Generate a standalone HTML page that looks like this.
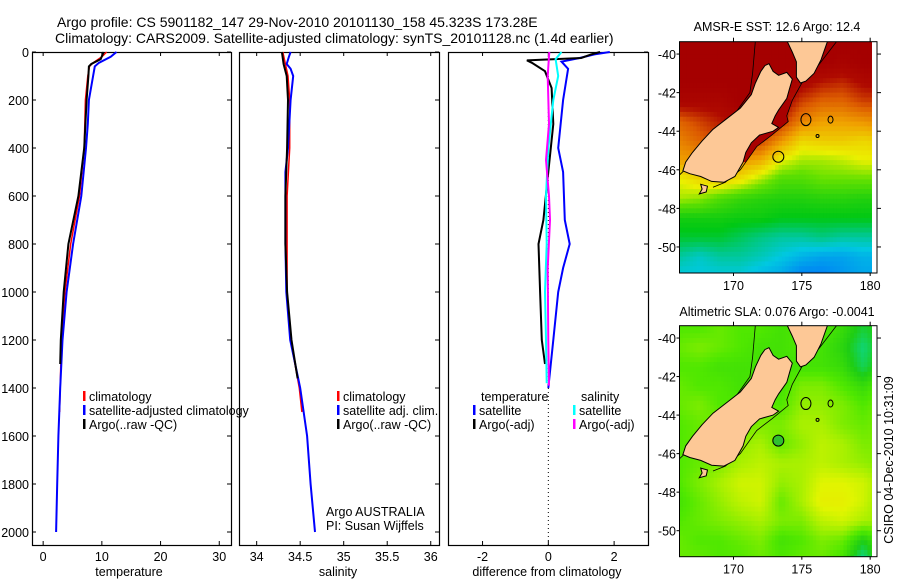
<!DOCTYPE html>
<html><head><meta charset="utf-8"><style>
html,body{margin:0;padding:0;background:#fff;width:900px;height:580px;overflow:hidden}
svg text{font-family:"Liberation Sans",sans-serif;fill:#000}
</style></head><body>
<svg id="fig" width="900" height="580" viewBox="0 0 900 580" xmlns="http://www.w3.org/2000/svg">
<text x="57" y="27" font-size="14">Argo profile: CS 5901182_147 29-Nov-2010 20101130_158 45.323S 173.28E</text>
<text x="55" y="43" font-size="14">Climatology: CARS2009. Satellite-adjusted climatology: synTS_20101128.nc (1.4d earlier)</text>
<g id="plots"></g>
</svg>
<script>
// ---- profile data ----
const climTDepth=[0,20,45,60,100,200,400,600,800,1000,1200,1400,1500];
const climT=[10.8,10.0,8.5,7.9,7.6,7.2,7.0,6.2,4.7,3.7,3.1,2.9,2.8];
const satTDepth=[0,20,45,60,100,200,300,400,600,800,1000,1200,1400,1600,1800,2000];
const satT=[12.5,11.5,9.5,8.8,8.5,7.8,7.6,7.3,6.5,5.1,4.0,3.3,2.9,2.6,2.4,2.2];
const argoTDepth=[0,30,50,60,100,200,400,600,800,1000,1200,1300];
const argoT=[10.3,9.8,8.2,7.8,7.7,7.4,7.0,6.0,4.3,3.5,3.0,2.9];
const climSDepth=[0,50,100,200,400,600,800,1000,1200,1400,1500];
const climS=[34.30,34.33,34.36,34.38,34.38,34.35,34.35,34.35,34.39,34.49,34.52];
const satSDepth=[0,20,50,70,100,200,400,500,800,1000,1200,1400,1600,1800,2000];
const satS=[34.39,34.37,34.345,34.39,34.42,34.39,34.36,34.33,34.33,34.34,34.385,34.5,34.58,34.62,34.67];
const argoSDepth=[0,50,100,200,400,600,800,1000,1200,1360];
const argoS=[34.29,34.31,34.345,34.36,34.35,34.33,34.33,34.35,34.40,34.47];
const dTsatDepth=[0,10,25,40,70,200,400,500,700,800,900,1000,1200,1400];
const dTsat=[1.87,1.4,0.95,0.4,0.6,0.45,0.3,0.45,0.5,0.65,0.45,0.3,0.15,0.0];
const dTargoDepth=[0,10,25,35,45,80,150,300,500,700,800,1000,1200,1300];
const dTargo=[1.57,1.3,1.0,-0.65,-0.5,-0.1,0.1,0.15,0,-0.15,-0.3,-0.25,-0.2,-0.1];
const dSsatDepth=[0,30,100,200,400,600,800,1000,1200,1380];
const dSsat=[0.4,0.22,0.3,0.15,0,-0.07,-0.05,-0.1,-0.07,-0.05];
const dSargoDepth=[0,100,300,450,600,700,900,1200,1390];
const dSargo=[0.03,-0.02,0.02,-0.07,0.02,0.05,-0.02,0,0.02];
const depthTicks=[0,200,400,600,800,1000,1200,1400,1600,1800,2000];
const tempTicks=[0,10,20,30];
const salTicks=[34,34.5,35,35.5,36];
const diffTicks=[-2,0,2];
const lonTicks=[170,175,180];
const latTicks=[-40,-42,-44,-46,-48,-50];
// map fields: rows lat -39.5..-51.5 step 1, cols lon 166..181 step 1.5
const sstField=[
[1,1,1,1,1,1,1,1,1,1,1],
[1,1,1,1,1,1,1,1,0.97,1,1],
[1,1,1,1,1,1,0.95,0.9,0.88,0.93,0.95],
[0.95,0.95,0.95,1,1,0.97,0.85,0.8,0.8,0.85,0.85],
[0.8,0.85,0.9,0.95,0.92,0.88,0.75,0.7,0.7,0.72,0.75],
[0.75,0.8,0.85,0.85,0.85,0.72,0.6,0.62,0.62,0.6,0.62],
[0.7,0.72,0.75,0.72,0.68,0.55,0.5,0.5,0.52,0.55,0.55],
[0.55,0.6,0.62,0.58,0.5,0.42,0.42,0.45,0.45,0.45,0.45],
[0.5,0.48,0.42,0.38,0.36,0.35,0.35,0.36,0.36,0.35,0.35],
[0.33,0.33,0.33,0.32,0.32,0.3,0.3,0.3,0.3,0.3,0.3],
[0.28,0.28,0.28,0.25,0.22,0.2,0.2,0.22,0.2,0.2,0.2],
[0.2,0.17,0.2,0.2,0.18,0.15,0.12,0.1,0.1,0.12,0.12],
[0.15,0.15,0.15,0.15,0.12,0.1,0.05,0.05,0.08,0.1,0.1]];
const slaField=[
[0.5,0.5,0.55,0.5,0.5,0.45,0.5,0.5,0.4,0.25,0.35],
[0.55,0.6,0.55,0.5,0.45,0.45,0.5,0.45,0.35,0.15,0.35],
[0.5,0.5,0.45,0.45,0.45,0.45,0.45,0.45,0.4,0.2,0.4],
[0.55,0.5,0.5,0.45,0.5,0.45,0.6,0.6,0.5,0.4,0.55],
[0.55,0.6,0.5,0.5,0.55,0.5,0.65,0.65,0.6,0.5,0.6],
[0.5,0.55,0.6,0.55,0.6,0.6,0.7,0.7,0.6,0.55,0.6],
[0.5,0.55,0.6,0.65,0.7,0.55,0.65,0.75,0.7,0.6,0.6],
[0.5,0.55,0.6,0.7,0.75,0.7,0.7,0.75,0.7,0.65,0.6],
[0.5,0.6,0.7,0.8,0.8,0.65,0.7,0.85,0.85,0.8,0.65],
[0.45,0.55,0.65,0.75,0.8,0.55,0.7,0.9,0.9,0.8,0.6],
[0.5,0.55,0.6,0.65,0.7,0.6,0.6,0.75,0.8,0.7,0.65],
[0.55,0.5,0.5,0.55,0.6,0.45,0.5,0.6,0.55,0.3,0.55],
[0.55,0.55,0.5,0.5,0.55,0.5,0.55,0.55,0.45,0.1,0.5]];
const southIsland=[[172.6,-40.5],[172.9,-40.9],[173.3,-41.1],[173.9,-40.95],[174.3,-41.3],[174.1,-41.8],[173.9,-42.3],[173.3,-42.9],[173.05,-43.2],[172.8,-43.6],[173.3,-43.8],[172.9,-44.0],[171.9,-44.2],[171.3,-44.6],[170.9,-45.1],[170.7,-45.6],[170.1,-46.35],[169.3,-46.65],[168.4,-46.6],[167.6,-46.35],[166.8,-46.2],[166.3,-46.05],[166.5,-45.6],[167.0,-45.1],[167.7,-44.5],[168.5,-43.9],[169.6,-43.3],[170.5,-42.8],[171.3,-42.1],[171.6,-41.5],[172.0,-40.9],[172.3,-40.6]];
const northIsland=[[173.9,-39.3],[174.3,-39.9],[174.6,-40.4],[174.6,-41.2],[174.9,-41.5],[175.3,-41.4],[175.9,-41.0],[176.4,-40.3],[176.9,-39.3]];
const stewartIsland=[[167.6,-46.75],[168.1,-46.85],[168.0,-47.15],[167.5,-47.25],[167.7,-47.0]];
const isobathWest=[[171.6,-39.3],[171.4,-41.0],[171.2,-42.0],[170.2,-43.0],[169.0,-43.75],[167.5,-44.9],[166.3,-46.1],[166.0,-46.3]];
const isobathEast=[[177.6,-39.3],[176.3,-40.5],[175.0,-41.5],[174.3,-42.4],[173.9,-43.2],[174.0,-43.5],[172.8,-44.2],[171.7,-44.8],[170.5,-46.0],[169.4,-46.65],[168.5,-46.9]];
const eastShelf=[[174.3,-42.4],[173.9,-43.2],[174.0,-43.5],[172.8,-44.2],[171.7,-44.8],[170.9,-45.6],[170.7,-45.6],[170.9,-45.1],[171.3,-44.6],[171.9,-44.2],[172.9,-44.0],[173.3,-43.8],[172.8,-43.6],[173.05,-43.2],[173.3,-42.9],[173.9,-42.3]];

const NS='http://www.w3.org/2000/svg';
const root=document.getElementById('plots');
function mk(tag,attrs,parent){const e=document.createElementNS(NS,tag);for(const k in attrs)e.setAttribute(k,attrs[k]);(parent||root).appendChild(e);return e;}
function txt(s,x,y,size,anchor,parent){const t=mk('text',{x:x,y:y,'font-size':size,'text-anchor':anchor||'start'},parent);t.textContent=s;return t;}

const TOP=52, BOT=545, Y0=52, YS=0.24;
const yD=d=>Y0+d*YS;
const panels=[
 {name:'temperature',x0:32,x1:231,v0:-1.9,v1:32,ticks:tempTicks,label:'temperature',lx:129},
 {name:'salinity',x0:239,x1:439,v0:33.797,v1:36.095,ticks:salTicks,label:'salinity',lx:338},
 {name:'difference',x0:448,x1:648,v0:-3.05,v1:3.03,ticks:diffTicks,label:'difference from climatology',lx:547}
];
panels.forEach((p,i)=>{
  p.sx=v=>p.x0+(v-p.v0)/(p.v1-p.v0)*(p.x1-p.x0);
  const g=mk('g',{});
  
  
  p.g=g;
  const fr=mk('rect',{x:p.x0+0.5,y:TOP+0.5,width:p.x1-p.x0,height:BOT-TOP,fill:'none',stroke:'#000','stroke-width':1.2},g);
  
  
  depthTicks.forEach(d=>{
    const y=yD(d);
    mk('line',{x1:p.x1-4,x2:p.x1,y1:y,y2:y,stroke:'#000'},g);
    if(i===0){mk('line',{x1:p.x0,x2:p.x0+4,y1:y,y2:y,stroke:'#000'},g);
      const t=txt(String(d),29,y+5,12.5,'end',g);
      
      }
  });
  p.ticks.forEach(v=>{
    const x=p.sx(v);
    mk('line',{x1:x,x2:x,y1:TOP,y2:TOP+4,stroke:'#000'},g);
    mk('line',{x1:x,x2:x,y1:BOT-4,y2:BOT,stroke:'#000'},g);
    const t=txt(String(v),x,561,12.5,'middle',g);
    
    
  });
  const al=txt(p.label,p.lx,576,12.5,'middle',g);
  
  
});
function series(p,depths,vals,color,w,name){
  const pts=depths.map((d,i)=>p.sx(vals[i]).toFixed(1)+','+yD(d).toFixed(1)).join(' ');
  const l=mk('polyline',{points:pts,fill:'none',stroke:color,'stroke-width':w,'stroke-linejoin':'miter'},p.g);
  
  
}
const [pT,pS,pD]=panels;
mk('line',{x1:pD.sx(0),x2:pD.sx(0),y1:TOP,y2:BOT,stroke:'#000','stroke-dasharray':'1,3'},pD.g);
series(pT,climTDepth,climT,'#ff0000',1.5,'temp-climatology-line');
series(pT,satTDepth,satT,'#0000ff',2,'temp-satellite-line');
series(pT,argoTDepth,argoT,'#000000',2,'temp-argo-line');
series(pS,climSDepth,climS,'#ff0000',1.5,'sal-climatology-line');
series(pS,satSDepth,satS,'#0000ff',2,'sal-satellite-line');
series(pS,argoSDepth,argoS,'#000000',2,'sal-argo-line');
series(pD,dTsatDepth,dTsat,'#0000ff',2,'diff-temp-satellite-line');
series(pD,dTargoDepth,dTargo,'#000000',2,'diff-temp-argo-line');
series(pD,dSsatDepth,dSsat,'#00ffff',2,'diff-sal-satellite-line');
series(pD,dSargoDepth,dSargo,'#ff00ff',2,'diff-sal-argo-line');

function legend(p,mx,items,y0,title){
  const g=mk('g',{},p.g);
  
  
  if(title){txt(title,mx+8,y0,12.5,'start',g);y0+=14;}
  items.forEach((it,i)=>{
    const y=y0+i*14;
    mk('rect',{x:mx,y:y-10,width:2.5,height:10,fill:it[1]},g);
    const t=txt(it[0],mx+6,y,12.5,'start',g);
    
    
  });
}
legend(pT,83,[['climatology','#ff0000'],['satellite-adjusted climatology','#0000ff'],['Argo(..raw -QC)','#000']],401);
legend(pS,337,[['climatology','#ff0000'],['satellite adj. clim.','#0000ff'],['Argo(..raw -QC)','#000']],401);
legend(pD,473,[['satellite','#0000ff'],['Argo(-adj)','#000']],401,'temperature');
legend(pD,573,[['satellite','#00ffff'],['Argo(-adj)','#ff00ff']],401,'salinity');
const c1=txt('Argo AUSTRALIA',326,516,12.5,'start',pS.g);


const c2=txt('PI: Susan Wijffels',326,530,12.5,'start',pS.g);



// ---- maps ----
function lerp(a,b,t){return a+(b-a)*t;}
function cmap(stops,v){v=Math.max(0,Math.min(1,v));for(let i=1;i<stops.length;i++){if(v<=stops[i][0]){const a=stops[i-1],b=stops[i],t=(v-a[0])/(b[0]-a[0]);return 'rgb('+[1,2,3].map(k=>Math.round(lerp(a[k],b[k],t))).join(',')+')';}}const l=stops[stops.length-1];return 'rgb('+l[1]+','+l[2]+','+l[3]+')';}
const sstStops=[[0,0,90,255],[0.15,0,200,225],[0.3,0,200,20],[0.45,100,225,0],[0.55,235,240,0],[0.7,240,160,0],[0.82,220,90,0],[0.92,175,10,0],[1,165,0,0]];
const slaStops=[[0,0,220,220],[0.3,30,205,20],[0.5,80,232,0],[0.7,170,240,0],[0.85,225,245,0],[1,240,225,0]];
function sample(f,lon,lat){
  let r=(-39.5-lat),c=(lon-166)/1.5;
  r=Math.max(0,Math.min(12,r));c=Math.max(0,Math.min(10,c));
  const r0=Math.min(11,Math.floor(r)),c0=Math.min(9,Math.floor(c)),tr=r-r0,tc=c-c0;
  return lerp(lerp(f[r0][c0],f[r0][c0+1],tc),lerp(f[r0+1][c0],f[r0+1][c0+1],tc),tr);
}
function drawMap(cfg){
  const g=mk('g',{});
  
  
  const L=679.5,R=877,DR=872,lon0=166.05,lon1=180.5,latTop=cfg.latTop,latBot=cfg.latBot,T=cfg.top,B=cfg.bot;
  const sx=lon=>L+(lon-lon0)/(lon1-lon0)*(R-L);
  const sy=lat=>T+(latTop-lat)/(latTop-latBot)*(B-T);
  const cid='clip'+cfg.name;
  const cp=mk('clipPath',{id:cid},g);mk('rect',{x:L,y:T,width:DR-L,height:B-T},cp);
  const cells=mk('g',{'clip-path':'url(#'+cid+')'},g);
  const step=0.25;
  for(let lat=-39.25;lat>-51.5;lat-=step){
    for(let lon=166.05;lon<180.1;lon+=step){
      const v=sample(cfg.field,lon+step/2,lat-step/2);
      mk('rect',{x:sx(lon).toFixed(2),y:sy(lat).toFixed(2),width:(sx(lon+step)-sx(lon)+0.6).toFixed(2),height:(sy(lat-step)-sy(lat)+0.6).toFixed(2),fill:cmap(cfg.stops,v)},cells);
    }
  }
  const poly=(pts,fill,sw,name)=>{const e=mk(fill==='none'?'polyline':'polygon',{points:pts.map(p=>sx(p[0]).toFixed(1)+','+sy(p[1]).toFixed(1)).join(' '),fill:fill,stroke:sw>0?'#000':'none','stroke-width':sw},cells);};
  if(cfg.shelfFill) poly(eastShelf,cfg.shelfFill,0,'east-shelf-water');
  poly(isobathWest,'none',0.8,'isobath-line');
  poly(isobathEast,'none',0.8,'isobath-line');
  poly(southIsland,'#fdc896',1,'south-island');
  poly(northIsland,'#fdc896',1,'north-island');
  poly(stewartIsland,'#fdc896',1,'stewart-island');
  mk('ellipse',{cx:sx(175.3),cy:sy(-43.4),rx:5,ry:6,fill:'none',stroke:'#000'},cells);
  mk('ellipse',{cx:sx(177.1),cy:sy(-43.4),rx:2.5,ry:3.5,fill:'none',stroke:'#000'},cells);
  mk('circle',{cx:sx(176.15),cy:sy(-44.25),r:1.5,fill:'none',stroke:'#000'},cells);
  const ac=mk('circle',{cx:sx(173.28),cy:sy(-45.323),r:5.5,fill:cfg.markFill,stroke:'#000'},cells);
  
  
  mk('rect',{x:L,y:T,width:R-L,height:B-T,fill:'none',stroke:'#000','stroke-width':1},g);
  lonTicks.forEach(v=>{const x=sx(v);mk('line',{x1:x,x2:x,y1:T-4,y2:T,stroke:'#000'},g);mk('line',{x1:x,x2:x,y1:B,y2:B+3,stroke:'#000'},g);
    const t=txt(String(v),x,B+17,12.5,'middle',g);});
  latTicks.forEach(v=>{const y=sy(v);mk('line',{x1:R,x2:R+4,y1:y,y2:y,stroke:'#000'},g);mk('line',{x1:L-3,x2:L,y1:y,y2:y,stroke:'#000'},g);
    const t=txt(String(v),676,y+5,12.5,'end',g);});
  const tt=txt(cfg.title,777,cfg.titleY,12.5,'middle',g);
  
  
}
drawMap({name:'sst-map',field:sstField,stops:sstStops,top:41.7,bot:273,latTop:-39.36,latBot:-51.35,title:'AMSR-E SST: 12.6 Argo: 12.4',titleY:31,markFill:'none',shelfFill:'#a80000'});
drawMap({name:'sla-map',field:slaField,stops:slaStops,top:325.7,bot:556.7,latTop:-39.36,latBot:-51.35,title:'Altimetric SLA: 0.076 Argo: -0.0041',titleY:316,markFill:'#30c030',shelfFill:''});
const st=mk('text',{x:0,y:0,'font-size':12.5,'text-anchor':'middle',transform:'translate(893,460) rotate(-90)'});
st.textContent='CSIRO 04-Dec-2010 10:31:09';


</script>
</body></html>
